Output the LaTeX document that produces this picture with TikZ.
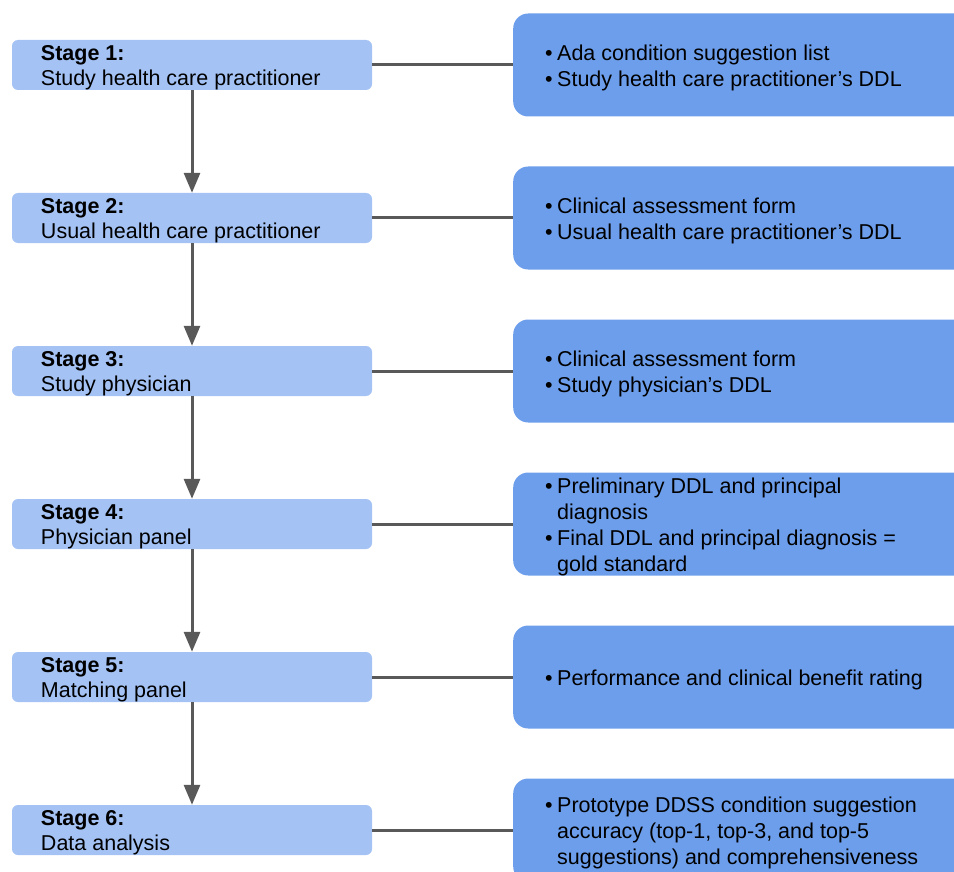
\documentclass[tikz,border=0pt]{standalone}
\usepackage{fontspec}
\setmainfont{Liberation Sans}
\usetikzlibrary{arrows.meta}
\definecolor{stagefill}{HTML}{A4C2F4}
\definecolor{infofill}{HTML}{6D9EEB}
\definecolor{linegray}{HTML}{595959}
\newcommand{\bul}{\makebox[12pt][l]{•}}
\newcommand{\ind}{\hspace*{12pt}}
\tikzset{
  stagebox/.style={rectangle, rounded corners=6pt, fill=stagefill, minimum width=360pt, minimum height=50pt, inner sep=0pt},
  stagetext/.style={anchor=west, align=left, inner sep=0pt, yshift=-2.5pt, font=\fontsize{21.5pt}{25pt}\selectfont},
  infobox/.style={rectangle, rounded corners=15pt, fill=infofill, minimum width=520pt, minimum height=103pt, inner sep=0pt, anchor=west},
  infotext/.style={anchor=west, align=left, inner sep=0pt, yshift=-3pt, font=\fontsize{21.5pt}{26pt}\selectfont},
  flow/.style={draw=linegray, line width=3pt, -{Triangle[length=20pt,width=16pt]}},
  link/.style={draw=linegray, line width=3pt}
}
\begin{document}
\begin{tikzpicture}[x=1pt,y=-1pt]
\useasboundingbox (0,0) rectangle (954,872);
\clip (0,0) rectangle (954,872);
% stage boxes
\foreach \i/\y in {1/65,2/218,3/371,4/524,5/677,6/830}{
  \node[stagebox] (s\i) at (192,\y) {};
  \node[infobox] (r\i) at (513,\y) {};
}
% stage texts
\node[stagetext] (t1) at ([xshift=29pt]s1.west) {\textbf{Stage 1:}\\Study health care practitioner};
\node[stagetext] (t2) at ([xshift=29pt]s2.west) {\textbf{Stage 2:}\\Usual health care practitioner};
\node[stagetext] (t3) at ([xshift=29pt]s3.west) {\textbf{Stage 3:}\\Study physician};
\node[stagetext] (t4) at ([xshift=29pt]s4.west) {\textbf{Stage 4:}\\Physician panel};
\node[stagetext] (t5) at ([xshift=29pt]s5.west) {\textbf{Stage 5:}\\Matching panel};
\node[stagetext] (t6) at ([xshift=29pt]s6.west) {\textbf{Stage 6:}\\Data analysis};
% info texts
\node[infotext] (i1) at ([xshift=32pt]r1.west) {\bul Ada condition suggestion list\\\bul Study health care practitioner’s DDL};
\node[infotext] (i2) at ([xshift=32pt]r2.west) {\bul Clinical assessment form\\\bul Usual health care practitioner’s DDL};
\node[infotext] (i3) at ([xshift=32pt]r3.west) {\bul Clinical assessment form\\\bul Study physician’s DDL};
\node[infotext] (i4) at ([xshift=32pt]r4.west) {\bul Preliminary DDL and principal\\\ind diagnosis\\\bul Final DDL and principal diagnosis =\\\ind gold standard};
\node[infotext] (i5) at ([xshift=32pt]r5.west) {\bul Performance and clinical benefit rating};
\node[infotext] (i6) at ([xshift=32pt]r6.west) {\bul Prototype DDSS condition suggestion\\\ind accuracy (top-1, top-3, and top-5\\\ind suggestions) and comprehensiveness};
% connectors
\foreach \i in {1,...,6}{
  \draw[link] (s\i.east) -- (r\i.west);
}
\foreach \i/\j in {1/2,2/3,3/4,4/5,5/6}{
  \draw[flow] (s\i.south) -- (s\j.north);
}
\end{tikzpicture}
\end{document}
